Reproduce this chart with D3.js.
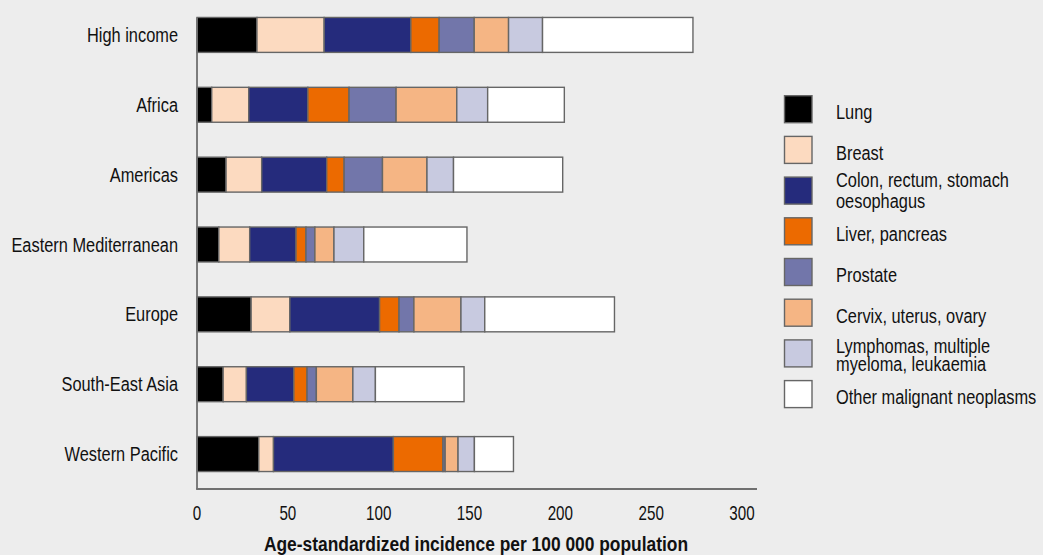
<!DOCTYPE html>
<html>
<head>
<meta charset="utf-8">
<script src="https://cdn.jsdelivr.net/npm/d3@7"></script>
<style>
  html, body { margin: 0; padding: 0; background: #ededed; }
  svg { display: block; }
  text { font-family: "Liberation Sans", Arial, sans-serif; fill: #111; }
</style>
</head>
<body>
<svg id="chart" width="1043" height="555"></svg>
<script>
const regions = ["High income", "Africa", "Americas", "Eastern Mediterranean", "Europe", "South-East Asia", "Western Pacific"];
const seriesNames = ["Lung", "Breast", "Colon, rectum, stomach|oesophagus", "Liver, pancreas", "Prostate", "Cervix, uterus, ovary", "Lymphomas, multiple|myeloma, leukaemia", "Other malignant neoplasms"];
const seriesColors = ["#000000", "#fcdac0", "#252b7c", "#ec6a00", "#7276aa", "#f5b584", "#c8cae0", "#ffffff"];

const lung      = [33.0,  8.1, 16.0, 12.0, 29.8, 14.4, 34.0];
const breast    = [37.0, 20.4, 19.6, 17.0, 21.3, 12.8,  8.1];
const colon     = [47.7, 32.5, 35.8, 25.5, 49.4, 26.1, 66.0];
const liver     = [15.6, 22.7,  9.6,  5.5, 10.7,  7.3, 27.3];
const prostate  = [19.3, 25.9, 21.1,  4.9,  8.2,  5.1,  1.2];
const cervix    = [18.9, 33.4, 24.5, 10.5, 25.9, 20.1,  7.1];
const lymphoma  = [18.7, 17.0, 14.6, 16.4, 13.1, 12.4,  9.0];
const other     = [82.8, 42.2, 60.1, 56.8, 71.4, 48.8, 21.5];
const xTicks = [0, 50, 100, 150, 200, 250, 300];
const xTitle = "Age-standardized incidence per 100 000 population";

const seriesValues = [lung, breast, colon, liver, prostate, cervix, lymphoma, other];
const keys = seriesValues.map((_, i) => "s" + i);
const table = regions.map((r, j) => {
  const row = { region: r };
  seriesValues.forEach((arr, i) => row["s" + i] = arr[j]);
  return row;
});

function addText(parent, px, py, str, size, sx, anchor, weight) {
  return parent.append("text")
    .attr("transform", `translate(${px},${py}) scale(${sx},1)`)
    .attr("text-anchor", anchor || "start")
    .attr("font-size", size)
    .attr("font-weight", weight || "normal")
    .text(str);
}

const svg = d3.select("#chart");
const x = d3.scaleLinear().domain([0, 300]).range([197, 742]);
const y = d3.scaleBand().domain(regions).range([0, 489]).paddingInner(0.5).paddingOuter(0.25);
const color = d3.scaleOrdinal().domain(keys).range(seriesColors);
const stack = d3.stack().keys(keys)(table);

// bars
svg.append("g").selectAll("g").data(stack).join("g")
  .attr("fill", d => color(d.key))
  .selectAll("rect").data(d => d).join("rect")
  .attr("x", d => x(d[0]))
  .attr("y", d => y(d.data.region))
  .attr("width", d => x(d[1]) - x(d[0]))
  .attr("height", y.bandwidth())
  .attr("stroke", "#666")
  .attr("stroke-width", 1.4);

// axis lines
const axisColor = "#707070";
svg.append("line").attr("x1", x(0)).attr("x2", x(0))
  .attr("y1", y(regions[0])).attr("y2", 489)
  .attr("stroke", axisColor).attr("stroke-width", 1.8);
svg.append("line").attr("x1", x(0) - 0.9).attr("x2", 757)
  .attr("y1", 489).attr("y2", 489)
  .attr("stroke", axisColor).attr("stroke-width", 1.8);

// x tick labels
const tickG = svg.append("g");
xTicks.forEach(t => addText(tickG, x(t), 520, t, 20, 0.76, "middle"));

// x title
addText(svg, 476, 551, xTitle, 20, 0.87, "middle", "bold");

// category labels
const catG = svg.append("g");
regions.forEach(r => addText(catG, 178, y(r) + y.bandwidth() / 2 + 7, r, 21, 0.78, "end"));

// legend
const lg = svg.append("g");
const twoLineOffsets = { 2: [10, 30.5], 6: [13, 31.5] };
seriesNames.forEach((d, i) => {
  const g = lg.append("g").attr("transform", `translate(784.5, ${95.7 + i * 40.7})`);
  g.append("rect")
    .attr("width", 27.5).attr("height", 27)
    .attr("fill", seriesColors[i])
    .attr("stroke", "#666").attr("stroke-width", 1.4);
  const parts = d.split("|");
  if (parts.length === 1) {
    addText(g, 51.5, 23.5, parts[0], 21, 0.78);
  } else {
    const off = twoLineOffsets[i];
    addText(g, 51.5, off[0], parts[0], 21, 0.78);
    addText(g, 51.5, off[1], parts[1], 21, 0.78);
  }
});
</script>
</body>
</html>
